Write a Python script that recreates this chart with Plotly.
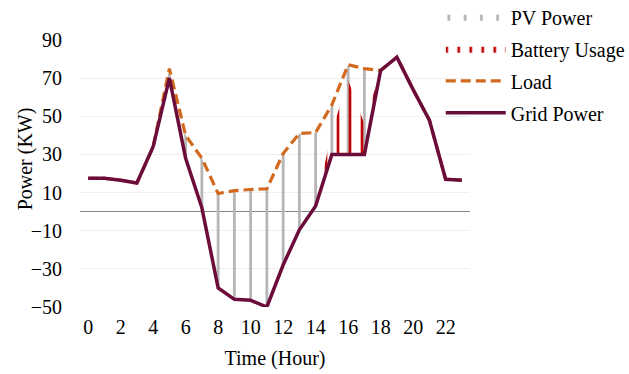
import plotly.graph_objects as go

# Hourly power balance (kW)
hours = list(range(24))
grid_power = [17.5, 17.5, 16.5, 15, 34, 70, 28, 2, -40, -46, -46.5, -50,
              -28, -9.5, 3, 30, 30, 30, 74, 81, 64, 48, 17, 16.5]
load = [17.5, 17.5, 16.5, 15, 34, 75, 40, 28, 9.5, 11, 11.6, 12,
        30.5, 41, 41.5, 56, 77, 75, 74, 81, 64, 48, 17, 16.5]
battery_usage = [0, 0, 0, 0, 0, 0, 0, 0, 0, 0, 0, 0,
                 0, 0, 0, 12, 39, 16, 0, 0, 0, 0, 0, 0]
battery_top = [g + b for g, b in zip(grid_power, battery_usage)]
x_ticks = list(range(0, 24, 2))
y_ticks = list(range(-50, 91, 20))

FONT = "Liberation Serif"
GRID_COLOR = "#6B0C3B"
LOAD_COLOR = "#D2691E"

fig = go.Figure()

# PV power: patterned band between grid power and load
fig.add_trace(go.Scatter(x=hours, y=grid_power, mode="lines",
                         line=dict(width=0), showlegend=False, hoverinfo="skip"))
fig.add_trace(go.Scatter(
    x=hours, y=load, mode="lines", name="PV Power", fill="tonexty",
    line=dict(width=0), fillcolor="rgba(255,255,255,0)",
    fillpattern=dict(shape="|", size=16.25, solidity=0.17,
                     fgcolor="#B4B4B4", fgopacity=1, bgcolor="rgba(255,255,255,0)",
                     fillmode="overlay"),
    legendgroup="pv"))

# Battery usage: patterned band stacked on grid power
fig.add_trace(go.Scatter(x=hours, y=grid_power, mode="lines",
                         line=dict(width=0), showlegend=False, hoverinfo="skip"))
fig.add_trace(go.Scatter(
    x=hours, y=battery_top, mode="lines", name="Battery Usage", fill="tonexty",
    line=dict(width=0), fillcolor="rgba(255,255,255,0)",
    fillpattern=dict(shape="|", size=12, solidity=0.22,
                     fgcolor="#C00000", fgopacity=1, bgcolor="rgba(255,255,255,0)",
                     fillmode="overlay"),
    legendgroup="bat"))

fig.add_trace(go.Scatter(x=hours, y=load, mode="lines", name="Load",
                         line=dict(color=LOAD_COLOR, width=3.2, dash="10px,5px"),
                         legendgroup="load"))
fig.add_trace(go.Scatter(x=hours, y=grid_power, mode="lines", name="Grid Power",
                         line=dict(color=GRID_COLOR, width=3.5),
                         legendgroup="grid"))

fig.update_layout(
    width=629, height=374,
    margin=dict(l=80, r=159, t=40, b=67, autoexpand=False),
    paper_bgcolor="white", plot_bgcolor="white",
    font=dict(family=FONT, size=20, color="black"),
    showlegend=True,
    legend=dict(x=0.925, y=1.16, xanchor="left", yanchor="top",
                font=dict(family=FONT, size=20, color="black"),
                itemwidth=60, tracegroupgap=3, traceorder="grouped",
                bgcolor="rgba(0,0,0,0)"),
    xaxis=dict(range=[-0.5, 23.5], tickmode="array", tickvals=x_ticks,
               showgrid=False, zeroline=False, showline=False, ticks="",
               ticklabelstandoff=6,
               title=dict(text="Time (Hour)", standoff=13,
                          font=dict(family=FONT, size=20))),
    yaxis=dict(range=[-50, 90], tickmode="array", tickvals=y_ticks,
               showgrid=True, gridcolor="#EFEFEF", gridwidth=1,
               zeroline=True, zerolinecolor="#888888", zerolinewidth=1,
               showline=False, ticks="", ticklabelstandoff=17),
    annotations=[dict(text="Power (KW)", textangle=-90, showarrow=False,
                      xref="paper", yref="paper", x=-0.141, y=0.553,
                      xanchor="center", yanchor="middle",
                      font=dict(family=FONT, size=20))],
)

fig.write_html("out.html")
